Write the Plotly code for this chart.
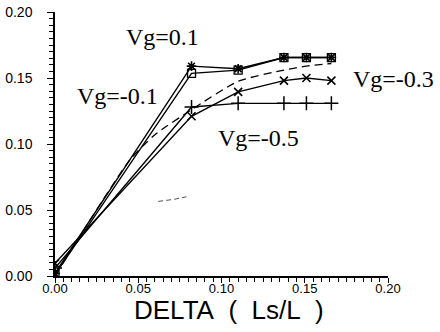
import plotly.graph_objects as go

# ---- data ----
delta = [0.0, 0.082, 0.11, 0.1375, 0.151, 0.166]
vg_p01 = [0.002, 0.159, 0.157, 0.1655, 0.1655, 0.1655]      # Vg=0.1
vg_m01 = [0.001, 0.1535, 0.156, 0.1655, 0.1655, 0.1655]     # Vg=-0.1
vg_m03 = [0.0096, 0.121, 0.1395, 0.148, 0.150, 0.148]       # Vg=-0.3
vg_m05 = [0.006, 0.128, 0.1308, 0.1308, 0.1308, 0.1308]     # Vg=-0.5

dash_x = [0.0, 0.045, 0.06, 0.082, 0.11, 0.1375, 0.151, 0.166]
dash_y = [0.0, 0.088, 0.107, 0.126, 0.1475, 0.156, 0.159, 0.161]

stray_x = [0.062, 0.071, 0.079]
stray_y = [0.0565, 0.058, 0.060]

labels = ["Vg=0.1", "Vg=-0.1", "Vg=-0.3", "Vg=-0.5"]
label_x = [0.0643, 0.0378, 0.2036, 0.1225]
label_y = [0.181, 0.1364, 0.1492, 0.1049]

x_range = [0, 0.20]
y_range = [0, 0.20]
x_ticks = [0.0, 0.05, 0.10, 0.15, 0.20]
x_ticktext = ["0.00", "0.05", "0.10", "0.15", "0.20"]
y_ticks = [0.0, 0.05, 0.10, 0.15, 0.20]
y_ticktext = ["0.00", "0.05", "0.10", "0.15", "0.20"]

fig = go.Figure()

line = dict(color="black", width=1.4)

fig.add_trace(go.Scatter(x=dash_x, y=dash_y, mode="lines",
                         line=dict(color="black", width=1.3, dash="8px,5px", shape="spline", smoothing=0.6)))
fig.add_trace(go.Scatter(x=stray_x, y=stray_y, mode="lines",
                         line=dict(color="#555", width=1, dash="5px,3px")))
fig.add_trace(go.Scatter(x=delta, y=vg_m05, mode="lines+markers", line=line,
                         marker=dict(symbol="cross-thin-open", size=10,
                                     line=dict(color="black", width=1.5))))
fig.add_trace(go.Scatter(x=delta, y=vg_m03, mode="lines+markers", line=line,
                         marker=dict(symbol="x-thin-open", size=8,
                                     line=dict(color="black", width=1.6))))
fig.add_trace(go.Scatter(x=delta, y=vg_m01, mode="lines+markers", line=line,
                         marker=dict(symbol="square-open", size=8, color="black",
                                     line=dict(color="black", width=1.3))))
fig.add_trace(go.Scatter(x=delta, y=vg_p01, mode="lines+markers", line=line,
                         marker=dict(symbol="asterisk-open", size=8,
                                     line=dict(color="black", width=1.6))))

# labels placed in paper coordinates derived from data values (so off-range labels still show)
for t, lx, ly in zip(labels, label_x, label_y):
    px = (lx - x_range[0]) / (x_range[1] - x_range[0])
    py = (ly - y_range[0]) / (y_range[1] - y_range[0])
    fig.add_annotation(x=px, y=py, xref="paper", yref="paper", text=t, showarrow=False,
                       font=dict(family="Liberation Serif", size=24, color="black"),
                       xanchor="center", yanchor="middle")

fig.add_annotation(x=0.5, y=-0.13, xref="paper", yref="paper",
                   text="DELTA\u00a0\u00a0(\u00a0\u00a0Ls/L\u00a0\u00a0)", showarrow=False,
                   font=dict(family="Liberation Sans", size=26, color="black"),
                   xanchor="center", yanchor="middle", xshift=7)

axis_common = dict(showgrid=False, zeroline=False, showline=True, linecolor="black",
                   linewidth=1.5, ticks="outside", tickwidth=1.3,
                   tickcolor="black", mirror=False, automargin=False,
                   minor=dict(dtick=0.005, ticks="outside", ticklen=4,
                              tickwidth=1, tickcolor="black"))

fig.update_xaxes(range=x_range, tickvals=x_ticks, ticktext=x_ticktext,
                 ticklen=5, ticklabelstandoff=-5,
                 tickfont=dict(family="Liberation Sans", size=13, color="black"),
                 **axis_common)
fig.update_yaxes(range=y_range, tickvals=y_ticks, ticktext=y_ticktext,
                 ticklen=6, ticklabelstandoff=12,
                 tickfont=dict(family="Liberation Sans", size=14, color="black"),
                 **axis_common)

fig.update_layout(width=440, height=332, showlegend=False,
                  plot_bgcolor="white", paper_bgcolor="white",
                  margin=dict(l=55, r=52, t=12, b=56))

fig.write_html("out.html", config={"displayModeBar": False},
               post_script="document.body.style.margin='0';document.body.style.overflow='hidden';")
